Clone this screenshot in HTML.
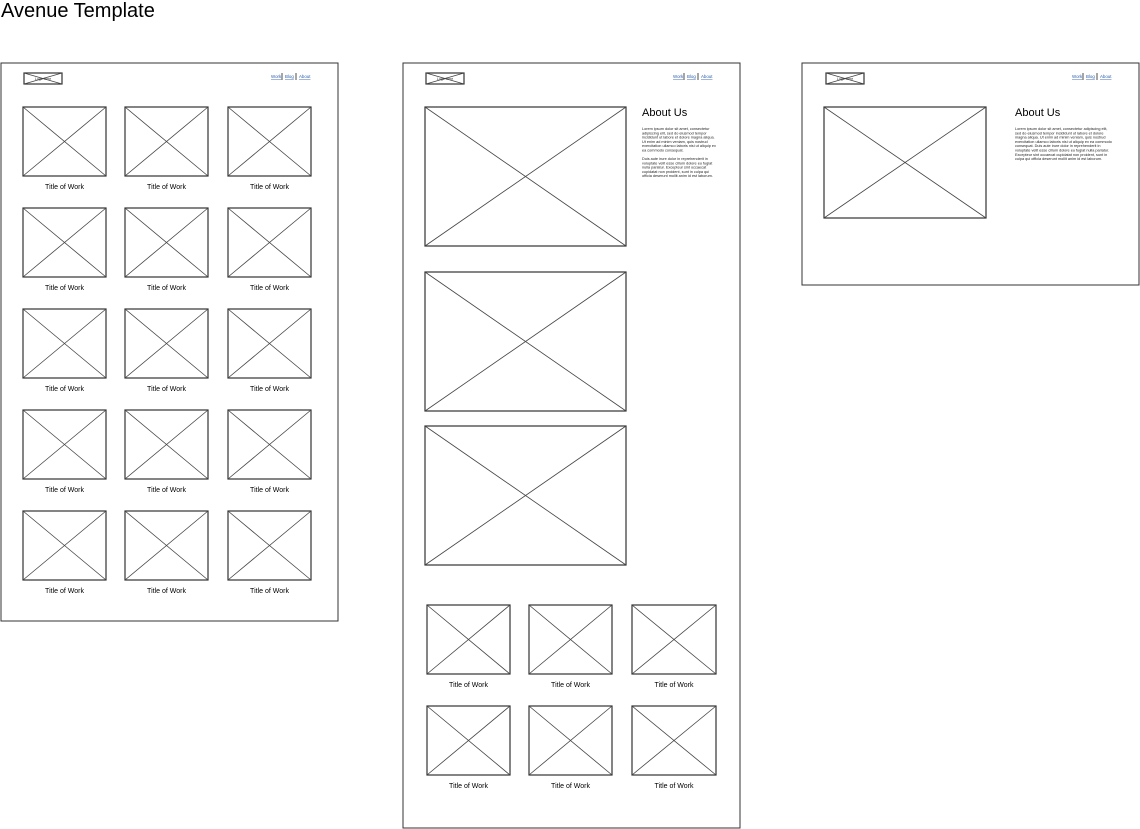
<!DOCTYPE html>
<html><head><meta charset="utf-8"><style>
html,body{margin:0;padding:0;background:#fff;width:1140px;height:829px;overflow:hidden}
svg{position:absolute;left:0;top:0}
text{font-family:"Liberation Sans",sans-serif}
</style></head><body>
<svg id="s" width="1140" height="829" xmlns="http://www.w3.org/2000/svg">
<text x="1" y="17" font-size="20" fill="#000">Avenue Template</text>
</svg>
<script>
const s=document.getElementById('s');let h='';
function rect(x,y,w,h2,sw){h+=`<rect x="${x}" y="${y}" width="${w}" height="${h2}" fill="#fff" stroke="#333" stroke-width="${sw||1}"/>`;}
function img(x1,y1,x2,y2,sw){rect(x1,y1,x2-x1,y2-y1,sw||1.2);h+=`<line x1="${x1}" y1="${y1}" x2="${x2}" y2="${y2}" stroke="#444" stroke-width="0.8"/><line x1="${x2}" y1="${y1}" x2="${x1}" y2="${y2}" stroke="#444" stroke-width="0.8"/>`;}
function t(x,y,str,fs,anchor,fill,deco){h+=`<text x="${x}" y="${y}" font-size="${fs}" text-anchor="${anchor||'start'}" fill="${fill||'#000'}"${deco?' text-decoration="underline"':''}>${str}</text>`;}
function header(px,logo,nav){img(logo,73,logo+38,84,1.2);t(logo+19,80,'Logo Here',3.5,'middle','#333');
 t(nav,78,'Work',4.4,'start','#2a5db0',1);h+=`<line x1="${nav+11}" y1="73" x2="${nav+11}" y2="80" stroke="#000" stroke-width="0.7"/>`;
 t(nav+14,78,'Blog',4.4,'start','#2a5db0',1);h+=`<line x1="${nav+25}" y1="73" x2="${nav+25}" y2="80" stroke="#000" stroke-width="0.7"/>`;
 t(nav+28,78,'About',4.4,'start','#2a5db0',1);}
function grid(cols,rows){for(const y of rows)for(const c of cols){img(c[0],y,c[1],y+69);t((c[0]+c[1])/2,y+82,'Title of Work',7,'middle');}}
rect(1,63,337,558,1);header(1,24,271);
grid([[23,106],[125,208],[228,311]],[107,208,309,410,511]);
rect(403,63,337,765,1);header(403,426,673);
img(425,107,626,246);img(425,272,626,411);img(425,426,626,565);
grid([[427,510],[529,612],[632,716]],[605,706]);
t(642,116,'About Us',11);
const L1=['Lorem ipsum dolor sit amet, consectetur','adipiscing elit, sed do eiusmod tempor','incididunt ut labore et dolore magna aliqua.','Ut enim ad minim veniam, quis nostrud','exercitation ullamco laboris nisi ut aliquip ex','ea commodo consequat.'];
const L2=['Duis aute irure dolor in reprehenderit in','voluptate velit esse cillum dolore eu fugiat','nulla pariatur. Excepteur sint occaecat','cupidatat non proident, sunt in culpa qui','officia deserunt mollit anim id est laborum.'];
L1.forEach((l,i)=>t(642,130+i*4.3,l,3.8,'start','#222'));
L2.forEach((l,i)=>t(642,160+i*4.3,l,3.8,'start','#222'));
rect(802,63,337,222,1);header(802,826,1072);
img(824,107,986,218);
t(1015,116,'About Us',11);
const L3=['Lorem ipsum dolor sit amet, consectetur adipiscing elit,','sed do eiusmod tempor incididunt ut labore et dolore','magna aliqua. Ut enim ad minim veniam, quis nostrud','exercitation ullamco laboris nisi ut aliquip ex ea commodo','consequat. Duis aute irure dolor in reprehenderit in','voluptate velit esse cillum dolore eu fugiat nulla pariatur.','Excepteur sint occaecat cupidatat non proident, sunt in','culpa qui officia deserunt mollit anim id est laborum.'];
L3.forEach((l,i)=>t(1015,130+i*4.3,l,3.8,'start','#222'));
s.insertAdjacentHTML('beforeend',h);
</script>
</body></html>
